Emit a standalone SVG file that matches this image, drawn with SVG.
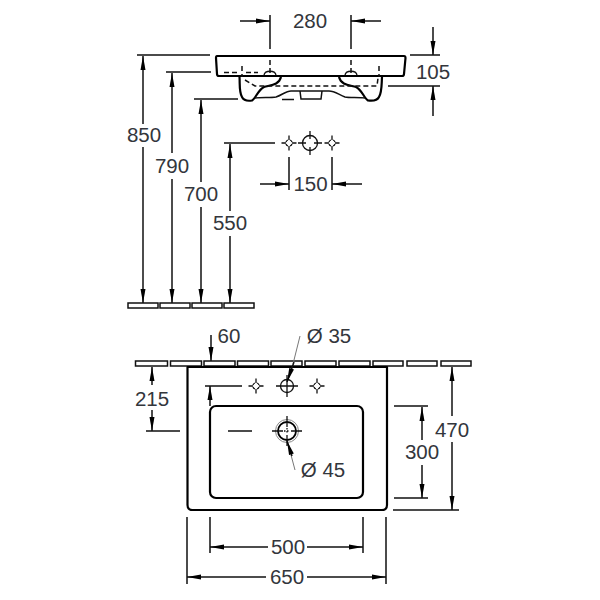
<svg xmlns="http://www.w3.org/2000/svg" width="600" height="600" viewBox="0 0 600 600">
<style>
text{font-family:"Liberation Sans",Arial,sans-serif;font-size:20.5px;fill:#33363c;text-anchor:middle}
.d{fill:none;stroke:#111;stroke-width:1.5}
.a{marker-end:url(#arr)}
.o{fill:none;stroke:#000;stroke-width:2.2;stroke-linejoin:round}
.h{fill:none;stroke:#111;stroke-width:1.5;stroke-dasharray:5 3}
.p{fill:#fff;stroke:#111;stroke-width:1.5}
.t{fill:none;stroke:#111;stroke-width:1.3}
.l{fill:none;stroke:#777;stroke-width:1}
</style>
<defs>
<marker id="arr" markerUnits="userSpaceOnUse" markerWidth="14" markerHeight="8" refX="14" refY="4" orient="auto"><path d="M0 1.500L14 4L0 6.500Z" fill="#000"/></marker>
<g id="tap"><path class="t" d="M0-7.500V-3M0 3V7.500M-7.500 0H-3M3 0H7.500"/><path class="t" d="M-3-1A3 3 0 0 1-1-3M1-3A3 3 0 0 1 3-1M3 1A3 3 0 0 1 1 3M-1 3A3 3 0 0 1-3 1"/></g>
</defs>
<g id="side-view">
<path class="o" d="M217 56H404Q405.500 56 405.500 58L404 74Q404 76 402 76H219Q217 76 217 74L216 58Q216 56 217 56Z"/>
<path class="o" d="M239.500 77C240 85 239 92 242 97C244 101 249 101 252 100.500C256 98 258 90 264 87C271 85 279 85 281 77"/>
<path class="o" d="M382 77C381.500 85 382 92 379 97C377 101 372 101 368 100.500C364 98 362 90 356 87C349 85 341 85 339 77"/>
<path class="d" d="M255 98C262 97 270 98 276 97C282 95 286 91 291 91H329C335 91 339 95 345 97C350 98 358 97 365 98"/>
<path class="d" d="M300 91L301 99H321L322 91"/>
<path class="d" d="M282 99.500H294" stroke-width="1.800"/>
<path class="h" d="M245 80L255 86H377L378 78"/>
<path class="h" d="M224 72.500H240M246 72.500H258" stroke-dasharray="none"/>
<path class="h" d="M242 66V77M379 66V77M270 60V76M351 60V76" stroke-width="1.200"/>
<path class="t" stroke-width="1.800" d="M264 75C265 70 275 70 276 75M345 75C346 70 356 70 357 75"/>
</g>
<g id="side-taps">
<use href="#tap" x="289" y="143"/>
<g transform="translate(310 143)"><circle class="t" r="7.500" stroke-width="1.800"/><path class="t" stroke-width="1.800" d="M0-12V-4M0 4V12M-12 0H-4M4 0H12"/></g>
<use href="#tap" x="332" y="143"/>
</g>
<g id="wall-pads">
<rect class="p" x="128" y="303" width="30" height="5"/><rect class="p" x="160" y="303" width="30" height="5"/><rect class="p" x="192" y="303" width="30" height="5"/><rect class="p" x="224" y="303" width="30" height="5"/>
</g>
<g id="top-pads">
<rect class="p" x="135.500" y="361" width="32" height="5"/><rect class="p" x="170.500" y="361" width="31" height="5"/><rect class="p" x="204" y="361" width="31" height="5"/><rect class="p" x="237.500" y="361" width="31" height="5"/><rect class="p" x="271" y="361" width="31" height="5"/><rect class="p" x="305" y="361" width="31" height="5"/><rect class="p" x="339" y="361" width="31" height="5"/><rect class="p" x="373" y="361" width="30" height="5"/><rect class="p" x="407" y="361" width="30" height="5"/><rect class="p" x="441" y="361" width="30" height="5"/>
</g>
<g id="basin-top">
<path class="o" d="M187.500 367H387V505Q387 510 382 510H192.500Q187.500 510 187.500 505Z"/>
<rect class="o" x="210" y="406" width="153" height="92" rx="6"/>
<use href="#tap" x="256" y="386"/>
<g transform="translate(287 386)"><circle class="t" r="6.500"/><path class="t" d="M0-11V11M-11 0H11"/></g>
<use href="#tap" x="317" y="386"/>
<g transform="translate(287 431)"><circle r="11.500" fill="none" stroke="#888" stroke-width="1"/><circle r="9" fill="none" stroke="#000" stroke-width="1.800"/><path class="t" stroke-width="1.400" d="M0-15V-4M0 4V15M-15 0H-4M4 0H15"/><path class="t" stroke-dasharray="1.500 1.500" d="M-3 0H3M0-3V3"/></g>
</g>
<g id="connectors">
<path class="d" d="M270 15V49M351 15V49M137 55H210M166 72H211M194 99H238M224 143H275M289 157V190M332 157V190M410 55H440M388 86H440"/>
<path class="d a" d="M240 21H270"/><path class="d a" d="M381 21H351"/>
<path class="d a" d="M433 27V55"/><path class="d a" d="M433 116V86"/>
<path class="d a" d="M260 184H289"/><path class="d a" d="M362 184H332"/>
<path class="d a" d="M143 124V56"/><path class="d a" d="M143 147V303"/>
<path class="d a" d="M172 153V73"/><path class="d a" d="M172 179V303"/>
<path class="d a" d="M201 182V100"/><path class="d a" d="M201 207V303"/>
<path class="d a" d="M230 211V144"/><path class="d a" d="M230 236V303"/>
<path class="d a" d="M211 335V361"/>
<path class="d a" d="M152 385V367"/><path class="d a" d="M152 410V431"/>
<path class="d" d="M146 431H180M205 386H242M228 431H252M394 406H428M394 498H428M393 510H459M187 517V584M210 517V553M363 517V553M386 517V584"/>
<path class="d a" d="M210 406V386"/>
<path class="d a" d="M422 440V407"/><path class="d a" d="M422 465V498"/>
<path class="d a" d="M452 416V367"/><path class="d a" d="M452 442V510"/>
<path class="d a" d="M268 547H210"/><path class="d a" d="M307 547H363"/>
<path class="d a" d="M266 577H187"/><path class="d a" d="M307 577H386"/>
<path class="l" d="M300 336L293 364"/><path class="d" style="marker-end:url(#arr)" d="M294 362L287 382"/>
<path class="l" d="M295 470L291 455"/><path class="d" style="marker-end:url(#arr)" d="M292 456L287 441"/>
</g>
<g id="labels">
<text x="310" y="28">280</text><text x="433" y="79">105</text>
<text x="144" y="142">850</text><text x="172" y="173">790</text><text x="201" y="201">700</text><text x="230" y="230">550</text>
<text x="310.500" y="191">150</text>
<text x="229" y="343">60</text><text x="329" y="343">Ø 35</text>
<text x="152" y="406">215</text><text x="422" y="459">300</text><text x="452" y="437">470</text>
<text x="323" y="477">Ø 45</text>
<text x="288" y="554">500</text><text x="287" y="584">650</text>
</g>
</svg>
